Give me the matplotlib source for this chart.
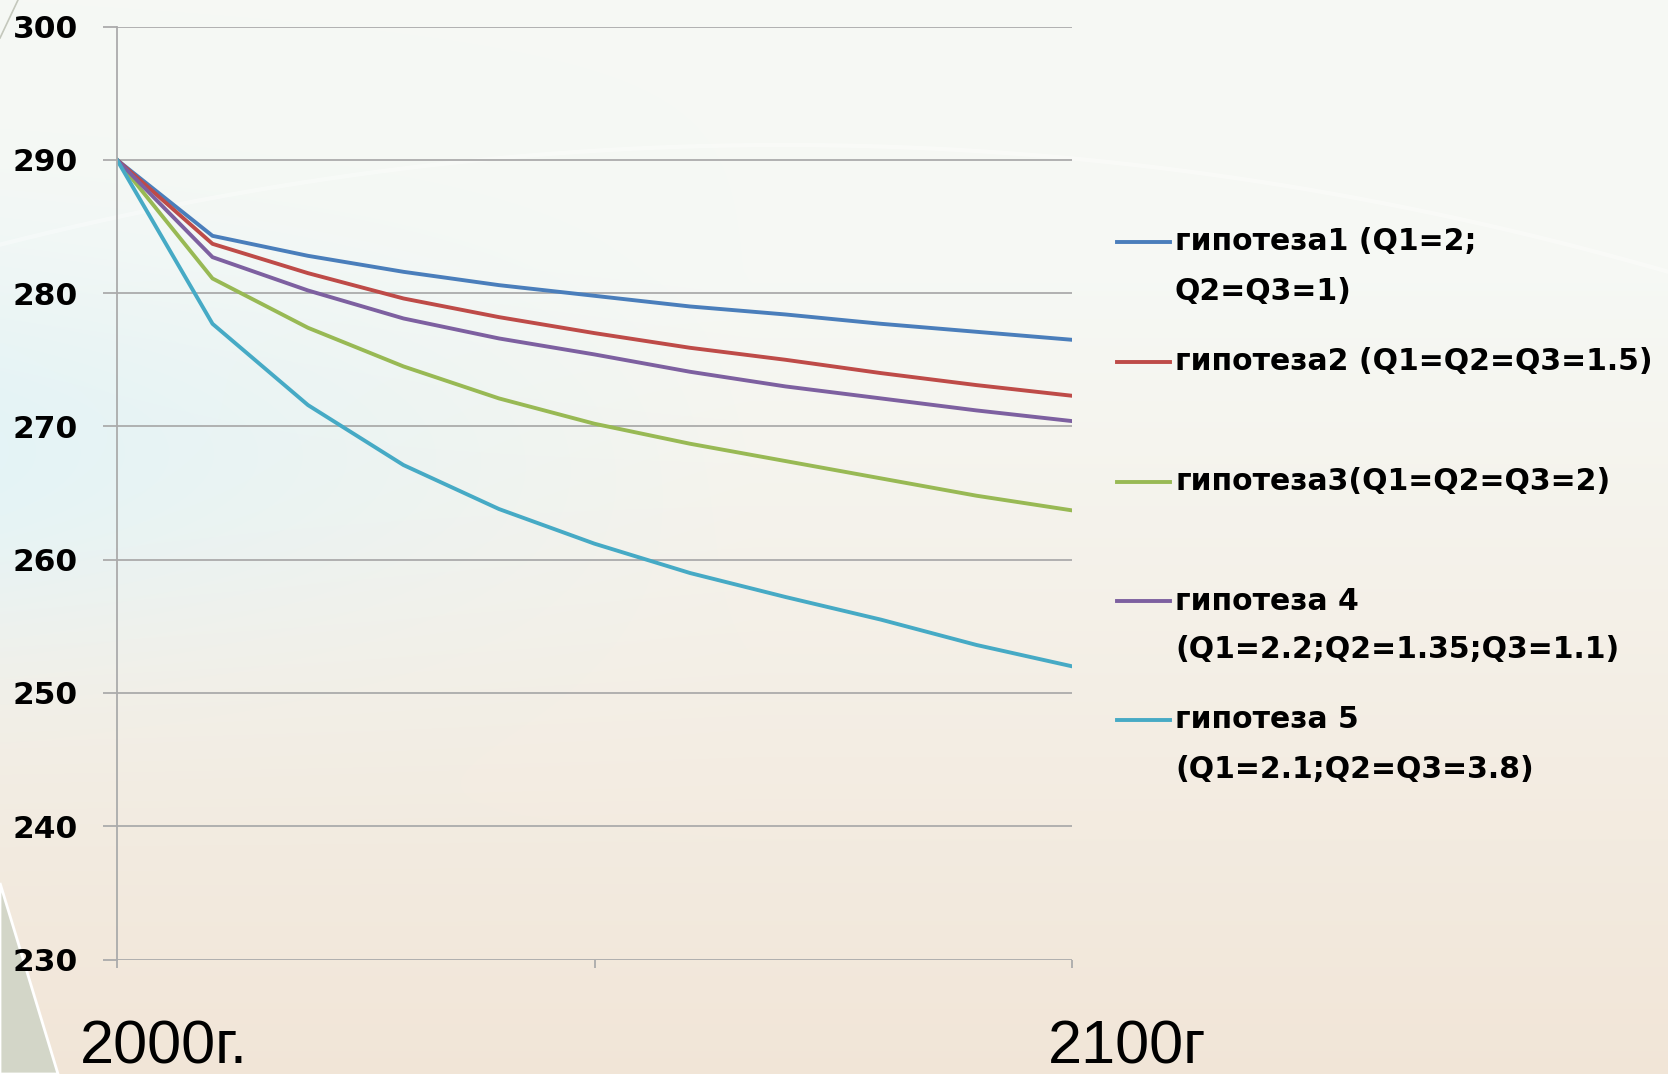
import numpy as np
import matplotlib.pyplot as plt
from matplotlib.lines import Line2D
from matplotlib.patches import Polygon

# годы прогноза (шаг 10 лет)
years = np.arange(2000, 2101, 10)

gip1 = [290, 284.3, 282.8, 281.6, 280.6, 279.8, 279.0, 278.4, 277.7, 277.1, 276.5]
gip2 = [290, 283.7, 281.5, 279.6, 278.2, 277.0, 275.9, 275.0, 274.0, 273.1, 272.3]
gip3 = [290, 281.1, 277.4, 274.5, 272.1, 270.2, 268.7, 267.4, 266.1, 264.8, 263.7]
gip4 = [290, 282.7, 280.2, 278.1, 276.6, 275.4, 274.1, 273.0, 272.1, 271.2, 270.4]
gip5 = [290, 277.7, 271.6, 267.1, 263.8, 261.2, 259.0, 257.2, 255.5, 253.6, 252.0]

labels = ['гипотеза1 (Q1=2;\nQ2=Q3=1)',
          'гипотеза2 (Q1=Q2=Q3=1.5)',
          'гипотеза3(Q1=Q2=Q3=2)',
          'гипотеза 4\n(Q1=2.2;Q2=1.35;Q3=1.1)',
          'гипотеза 5\n(Q1=2.1;Q2=Q3=3.8)']
colors = ['#4A7EBB', '#BE4B48', '#98B954', '#7D60A0', '#46AAC5']
series = [gip1, gip2, gip3, gip4, gip5]

yticks = np.arange(230, 301, 10)

W, H = 1668, 1074
fig = plt.figure(figsize=(W / 100, H / 100), dpi=100)

# фон слайда: сверху светлый, снизу бежевый, слева голубоватый оттенок
bg = fig.add_axes([0, 0, 1, 1])
yy, xx = np.mgrid[0:1:270j, 0:1:420j]
top = np.array([0.965, 0.975, 0.960])
bot = np.array([0.948, 0.900, 0.845])
t = np.clip((yy - 0.25) / 0.75, 0, 1)[..., None]
img = top * (1 - t) + bot * t
cyan = np.array([0.895, 0.955, 0.965])
w = (np.exp(-((yy - 0.42) / 0.18) ** 2) * np.clip(1 - xx / 0.45, 0, 1))[..., None]
img = img * (1 - w) + cyan * w
bg.imshow(img, aspect='auto', extent=[0, 1, 0, 1], interpolation='bilinear')
arc_x = np.linspace(0, 1, 200)
arc_y = 0.865 - 0.42 * (arc_x - 0.47) ** 2
bg.plot(arc_x, arc_y, color='white', lw=3, alpha=0.35)
bg.add_patch(Polygon([[0, 1 - 883 / H], [58 / W, 0], [0, 0]], closed=True,
                     facecolor='#D3D6C8', edgecolor='white', lw=2))
bg.plot([0, 18 / W], [1 - 38 / H, 1], color='#C4C8BC', lw=1.2)
bg.set_xlim(0, 1)
bg.set_ylim(0, 1)
bg.axis('off')

ax = fig.add_axes([117 / W, 1 - 959.5 / H, (1072 - 117) / W, (959.5 - 26.6) / H])
ax.patch.set_alpha(0)

for vals, c in zip(series, colors):
    ax.plot(years, vals, color=c, lw=2.8, solid_joinstyle='round')

ax.set_xlim(2000, 2100)
ax.set_ylim(230, 300)
ax.set_yticks(yticks)
ax.set_xticks([2000, 2050, 2100])
ax.set_xticklabels([])
ax.grid(axis='y', color='#ABABAB', lw=1.3)
ax.set_axisbelow(True)
for s in ['top', 'right', 'bottom']:
    ax.spines[s].set_visible(False)
ax.spines['left'].set_color('#ABABAB')
ax.spines['left'].set_linewidth(1.3)
ax.tick_params(axis='y', length=10, width=1.3, color='#ABABAB', pad=18,
               labelsize=22.5)
ax.tick_params(axis='x', length=6, width=1.3, color='#ABABAB', direction='out')
for lb in ax.get_yticklabels():
    lb.set_fontweight('bold')
    lb.set_family('DejaVu Sans')

# подписи годов
fig.text(80 / W, 1 - 1064 / H, '2000г.', fontsize=44, family='Liberation Sans',
         va='baseline')
fig.text(1048 / W, 1 - 1064 / H, '2100г', fontsize=44, family='Liberation Sans',
         va='baseline')

# легенда с неравными отступами
leg_y = [242, 362, 482, 601, 720]
line_gap = 49
for lab, c, y0 in zip(labels, colors, leg_y):
    fig.add_artist(Line2D([1117 / W, 1170 / W], [1 - y0 / H, 1 - y0 / H],
                          color=c, lw=2.8))
    for k, part in enumerate(lab.split('\n')):
        fig.text(1175 / W, 1 - (y0 + k * line_gap) / H, part, fontsize=21.5,
                 fontweight='bold', family='DejaVu Sans', va='center')

fig.savefig('out.png', dpi=100)
